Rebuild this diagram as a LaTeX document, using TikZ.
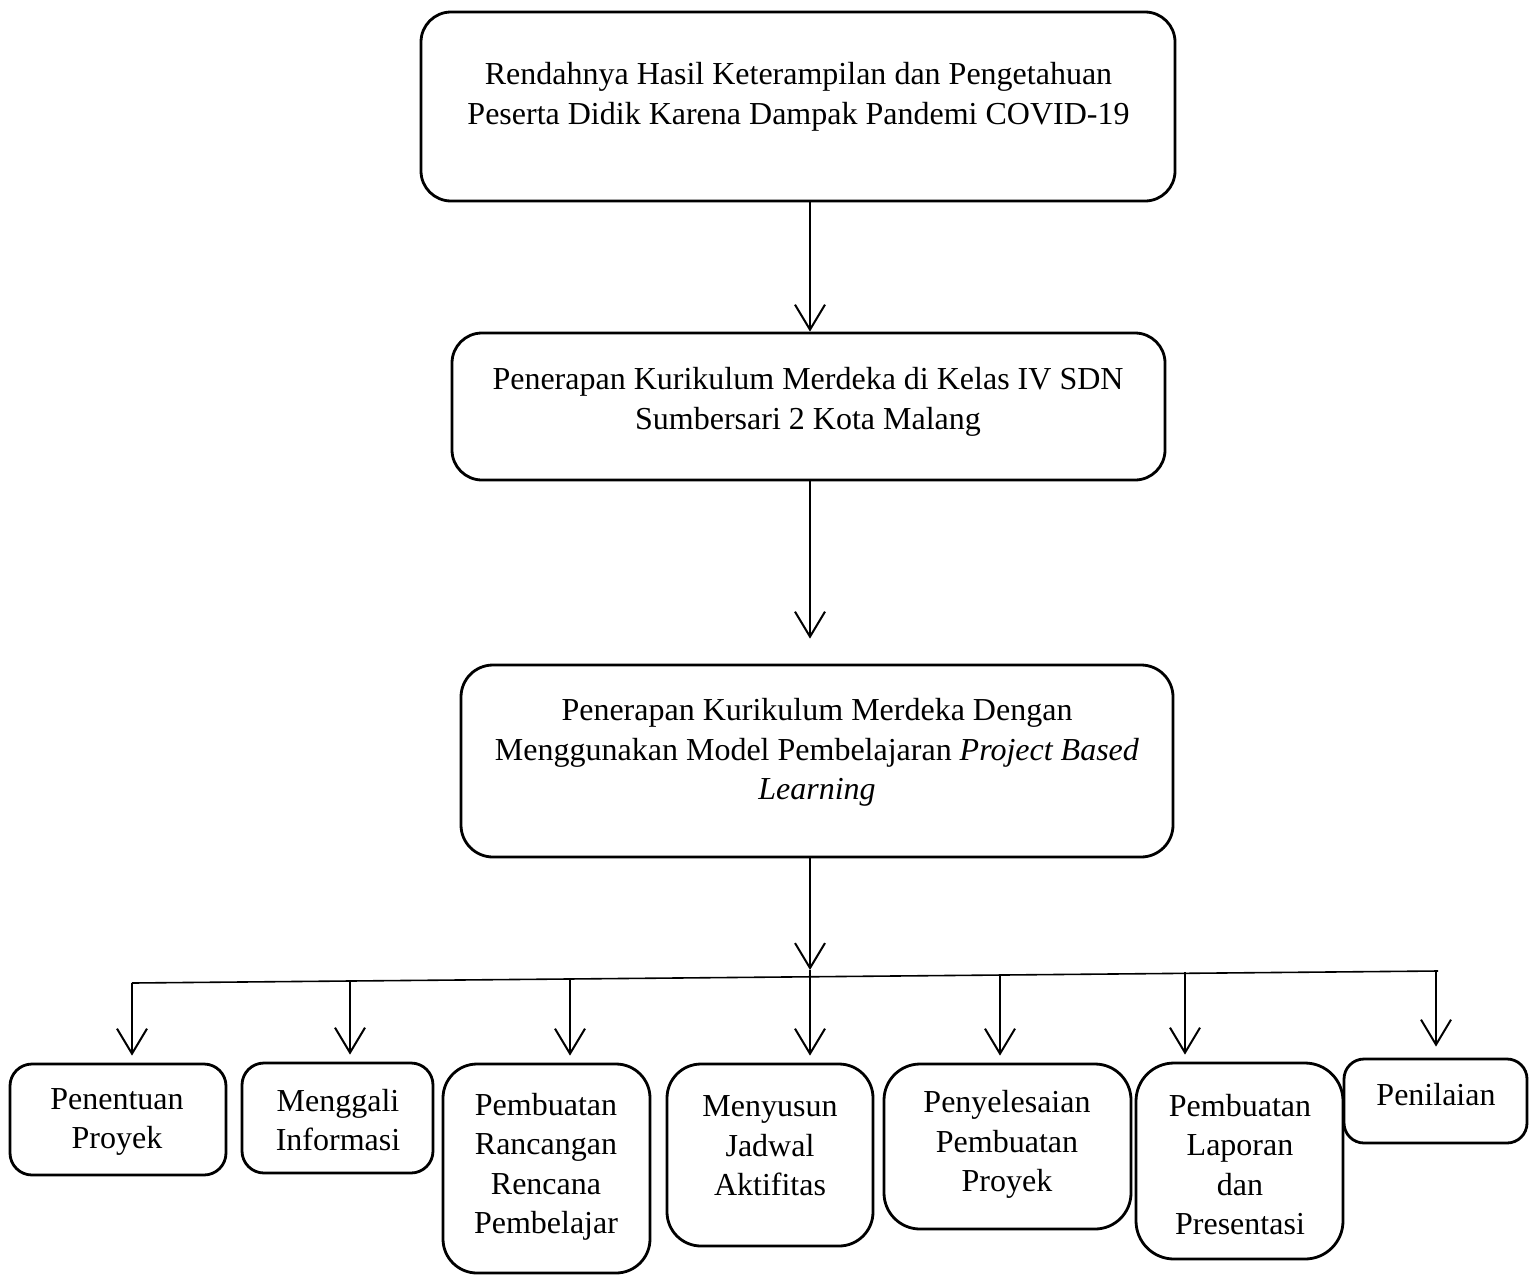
\documentclass[tikz,border=0pt]{standalone}
\usepackage{fontspec}
\setmainfont{Liberation Serif}
\usetikzlibrary{arrows.meta}
\begin{document}
\begin{tikzpicture}[x=1pt,y=-1pt,
  box/.style={draw=black, line width=2.8pt, inner sep=0pt},
  txt/.style={align=center, inner sep=0pt, font=\fontsize{32pt}{39.5pt}\selectfont},
  arr/.style={draw=black, line width=2pt, -{Straight Barb[length=25pt,width=30pt]}},
  ln/.style={draw=black, line width=1.6pt}]
\useasboundingbox (0,0) rectangle (1530,1274);
\coordinate (axis) at (810,0);
% top boxes
\node[box, rounded corners=30pt, minimum width=754pt, minimum height=189pt] (b1) at (798,106.5) {};
\node[txt] (t1) at (798.5,97) {Rendahnya Hasil Keterampilan dan Pengetahuan\\Peserta Didik Karena Dampak Pandemi COVID-19};
\node[box, rounded corners=30pt, minimum width=713pt, minimum height=147pt] (b2) at (808.5,406.5) {};
\node[txt] (t2) at (808,402) {Penerapan Kurikulum Merdeka di Kelas IV SDN\\Sumbersari 2 Kota Malang};
\node[box, rounded corners=32pt, minimum width=712pt, minimum height=192pt] (b3) at (817,761) {};
\node[txt] (t3) at (817,752.5) {Penerapan Kurikulum Merdeka Dengan\\Menggunakan Model Pembelajaran \textit{Project Based}\\\textit{Learning}};
% bottom boxes
\node[box, rounded corners=22pt, minimum width=216pt, minimum height=111pt] (p1) at (118,1119.5) {};
\node[txt] (q1) at (117,1122) {Penentuan\\Proyek};
\node[box, rounded corners=22pt, minimum width=191pt, minimum height=110pt] (p2) at (337.5,1118) {};
\node[txt] (q2) at (338,1120) {Menggali\\Informasi};
\node[box, rounded corners=34pt, minimum width=207pt, minimum height=209pt] (p3) at (546.5,1168.5) {};
\node[txt] (q3) at (546,1167) {Pembuatan\\Rancangan\\Rencana\\Pembelajar};
\node[box, rounded corners=34pt, minimum width=206pt, minimum height=182pt] (p4) at (770,1155) {};
\node[txt] (q4) at (770,1146) {Menyusun\\Jadwal\\Aktifitas};
\node[box, rounded corners=36pt, minimum width=247pt, minimum height=165pt] (p5) at (1007.5,1146.5) {};
\node[txt] (q5) at (1007,1144.5) {Penyelesaian\\Pembuatan\\Proyek};
\node[box, rounded corners=38pt, minimum width=207pt, minimum height=196pt] (p6) at (1239.5,1161) {};
\node[txt] (q6) at (1240,1164.5) {Pembuatan\\Laporan\\dan\\Presentasi};
\node[box, rounded corners=20pt, minimum width=183pt, minimum height=84pt] (p7) at (1435.5,1101) {};
\node[txt] (q7) at (1436,1095) {Penilaian};
% vertical arrows between top boxes
\draw[arr] (b1.south -| axis) -- (b2.north -| axis);
\draw[arr, shorten >=25pt] (b2.south -| axis) -- (b3.north -| axis);
% bus line
\coordinate (hl) at (132,983);
\coordinate (hr) at (1438,971);
\draw[ln] (hl) -- (hr);
\coordinate (j1) at (132,983);
\coordinate (j2) at (350,981);
\coordinate (j3) at (570,979);
\coordinate (j4) at (810,970);
\coordinate (j5) at (1000,975);
\coordinate (j6) at (1185,972);
\coordinate (j7) at (1436,971);
\draw[arr] (b3.south -| axis) -- (j4);
\draw[arr, shorten >=7pt] (j1) -- (j1 |- p1.north);
\draw[arr, shorten >=7pt] (j2) -- (j2 |- p2.north);
\draw[arr, shorten >=7pt] (j3) -- (j3 |- p3.north);
\draw[arr, shorten >=7pt] (j4) -- (j4 |- p4.north);
\draw[arr, shorten >=7pt] (j5) -- (j5 |- p5.north);
\draw[arr, shorten >=7pt] (j6) -- (j6 |- p6.north);
\draw[arr, shorten >=11pt] (j7) -- (j7 |- p7.north);
\end{tikzpicture}
\end{document}
